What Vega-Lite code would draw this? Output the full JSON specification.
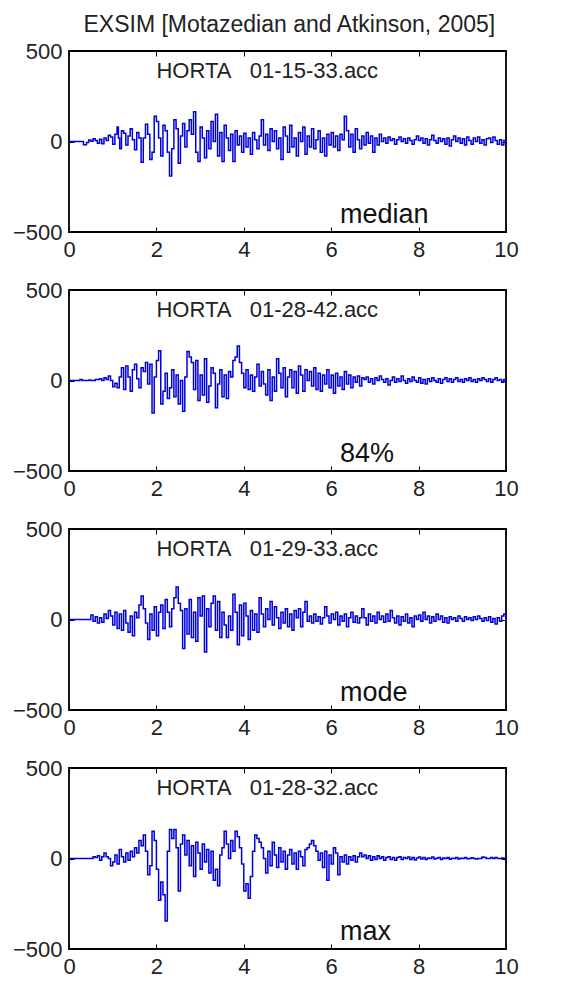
{
"$schema":"https://vega.github.io/schema/vega-lite/v6.json",
"padding":{"left":11,"top":14,"right":10,"bottom":5},
"background":"#ffffff",
"title":{"text":"EXSIM [Motazedian and Atkinson, 2005]","fontSize":23,"fontWeight":"normal","font":"Liberation Sans","color":"#222222","anchor":"middle","offset":2,"dx":24},
"spacing":58,
"bounds":"flush",
"datasets":{
"labels":[
{"p":"median","t":2.0,"a":350,"txt":"HORTA\u00a0\u00a0\u00a001-15-33.acc","k":"top"},
{"p":"median","t":6.2,"a":-453,"txt":"median","k":"bot"},
{"p":"84%","t":2.0,"a":350,"txt":"HORTA\u00a0\u00a0\u00a001-28-42.acc","k":"top"},
{"p":"84%","t":6.2,"a":-453,"txt":"84%","k":"bot"},
{"p":"mode","t":2.0,"a":350,"txt":"HORTA\u00a0\u00a0\u00a001-29-33.acc","k":"top"},
{"p":"mode","t":6.2,"a":-453,"txt":"mode","k":"bot"},
{"p":"max","t":2.0,"a":350,"txt":"HORTA\u00a0\u00a0\u00a001-28-32.acc","k":"top"},
{"p":"max","t":6.2,"a":-453,"txt":"max","k":"bot"}
],
"trace":[
{"p":"median","t":0,"a":0},{"p":"median","t":0.3,"a":0},{"p":"median","t":0.33,"a":-18},{"p":"median","t":0.4,"a":-5},{"p":"median","t":0.45,"a":8},{"p":"median","t":0.5,"a":2},{"p":"median","t":0.55,"a":15},{"p":"median","t":0.6,"a":5},{"p":"median","t":0.65,"a":-10},{"p":"median","t":0.7,"a":12},{"p":"median","t":0.75,"a":-12},{"p":"median","t":0.8,"a":20},{"p":"median","t":0.85,"a":5},{"p":"median","t":0.9,"a":35},{"p":"median","t":0.95,"a":25},{"p":"median","t":1.0,"a":-15},{"p":"median","t":1.05,"a":40},{"p":"median","t":1.1,"a":80},{"p":"median","t":1.13,"a":20},{"p":"median","t":1.16,"a":-40},{"p":"median","t":1.2,"a":60},{"p":"median","t":1.25,"a":45},{"p":"median","t":1.3,"a":-20},{"p":"median","t":1.35,"a":30},{"p":"median","t":1.4,"a":70},{"p":"median","t":1.45,"a":10},{"p":"median","t":1.5,"a":-45},{"p":"median","t":1.55,"a":50},{"p":"median","t":1.6,"a":20},{"p":"median","t":1.65,"a":-115},{"p":"median","t":1.7,"a":20},{"p":"median","t":1.75,"a":95},{"p":"median","t":1.8,"a":40},{"p":"median","t":1.85,"a":-100},{"p":"median","t":1.9,"a":-60},{"p":"median","t":1.95,"a":140},{"p":"median","t":2.0,"a":110},{"p":"median","t":2.05,"a":20},{"p":"median","t":2.1,"a":-80},{"p":"median","t":2.15,"a":90},{"p":"median","t":2.2,"a":60},{"p":"median","t":2.25,"a":-60},{"p":"median","t":2.3,"a":-190},{"p":"median","t":2.35,"a":-40},{"p":"median","t":2.4,"a":120},{"p":"median","t":2.45,"a":70},{"p":"median","t":2.5,"a":-120},{"p":"median","t":2.55,"a":30},{"p":"median","t":2.6,"a":100},{"p":"median","t":2.65,"a":-30},{"p":"median","t":2.7,"a":60},{"p":"median","t":2.75,"a":120},{"p":"median","t":2.8,"a":40},{"p":"median","t":2.85,"a":165},{"p":"median","t":2.9,"a":-60},{"p":"median","t":2.95,"a":-110},{"p":"median","t":3.0,"a":80},{"p":"median","t":3.05,"a":20},{"p":"median","t":3.1,"a":-90},{"p":"median","t":3.15,"a":60},{"p":"median","t":3.2,"a":-40},{"p":"median","t":3.25,"a":110},{"p":"median","t":3.3,"a":0},{"p":"median","t":3.35,"a":150},{"p":"median","t":3.4,"a":-80},{"p":"median","t":3.45,"a":50},{"p":"median","t":3.5,"a":-110},{"p":"median","t":3.55,"a":90},{"p":"median","t":3.6,"a":20},{"p":"median","t":3.65,"a":-50},{"p":"median","t":3.7,"a":40},{"p":"median","t":3.75,"a":-110},{"p":"median","t":3.8,"a":60},{"p":"median","t":3.85,"a":-20},{"p":"median","t":3.9,"a":30},{"p":"median","t":3.95,"a":-60},{"p":"median","t":4.0,"a":45},{"p":"median","t":4.05,"a":-30},{"p":"median","t":4.1,"a":20},{"p":"median","t":4.15,"a":-70},{"p":"median","t":4.2,"a":50},{"p":"median","t":4.25,"a":10},{"p":"median","t":4.3,"a":-40},{"p":"median","t":4.35,"a":30},{"p":"median","t":4.4,"a":120},{"p":"median","t":4.45,"a":-20},{"p":"median","t":4.5,"a":40},{"p":"median","t":4.55,"a":-50},{"p":"median","t":4.6,"a":70},{"p":"median","t":4.65,"a":0},{"p":"median","t":4.7,"a":60},{"p":"median","t":4.75,"a":-40},{"p":"median","t":4.8,"a":20},{"p":"median","t":4.85,"a":-100},{"p":"median","t":4.9,"a":80},{"p":"median","t":4.95,"a":30},{"p":"median","t":5.0,"a":-60},{"p":"median","t":5.05,"a":90},{"p":"median","t":5.1,"a":-30},{"p":"median","t":5.15,"a":20},{"p":"median","t":5.2,"a":-80},{"p":"median","t":5.25,"a":50},{"p":"median","t":5.3,"a":0},{"p":"median","t":5.35,"a":80},{"p":"median","t":5.4,"a":-70},{"p":"median","t":5.45,"a":30},{"p":"median","t":5.5,"a":-30},{"p":"median","t":5.55,"a":70},{"p":"median","t":5.6,"a":-40},{"p":"median","t":5.65,"a":10},{"p":"median","t":5.7,"a":60},{"p":"median","t":5.75,"a":-60},{"p":"median","t":5.8,"a":20},{"p":"median","t":5.85,"a":-80},{"p":"median","t":5.9,"a":40},{"p":"median","t":5.95,"a":-20},{"p":"median","t":6.0,"a":50},{"p":"median","t":6.05,"a":-30},{"p":"median","t":6.1,"a":30},{"p":"median","t":6.15,"a":-50},{"p":"median","t":6.2,"a":40},{"p":"median","t":6.25,"a":10},{"p":"median","t":6.3,"a":140},{"p":"median","t":6.35,"a":60},{"p":"median","t":6.4,"a":-30},{"p":"median","t":6.45,"a":40},{"p":"median","t":6.5,"a":-60},{"p":"median","t":6.55,"a":70},{"p":"median","t":6.6,"a":10},{"p":"median","t":6.65,"a":-40},{"p":"median","t":6.7,"a":30},{"p":"median","t":6.75,"a":-20},{"p":"median","t":6.8,"a":50},{"p":"median","t":6.85,"a":-10},{"p":"median","t":6.9,"a":30},{"p":"median","t":6.95,"a":-60},{"p":"median","t":7.0,"a":20},{"p":"median","t":7.05,"a":-20},{"p":"median","t":7.1,"a":40},{"p":"median","t":7.15,"a":0},{"p":"median","t":7.2,"a":20},{"p":"median","t":7.25,"a":-10},{"p":"median","t":7.3,"a":25},{"p":"median","t":7.35,"a":5},{"p":"median","t":7.4,"a":15},{"p":"median","t":7.45,"a":-15},{"p":"median","t":7.5,"a":10},{"p":"median","t":7.55,"a":25},{"p":"median","t":7.6,"a":0},{"p":"median","t":7.65,"a":15},{"p":"median","t":7.7,"a":-10},{"p":"median","t":7.75,"a":20},{"p":"median","t":7.8,"a":5},{"p":"median","t":7.85,"a":-15},{"p":"median","t":7.9,"a":10},{"p":"median","t":7.95,"a":30},{"p":"median","t":8.0,"a":5},{"p":"median","t":8.05,"a":20},{"p":"median","t":8.1,"a":-10},{"p":"median","t":8.15,"a":15},{"p":"median","t":8.2,"a":-20},{"p":"median","t":8.25,"a":10},{"p":"median","t":8.3,"a":35},{"p":"median","t":8.35,"a":5},{"p":"median","t":8.4,"a":-10},{"p":"median","t":8.45,"a":20},{"p":"median","t":8.5,"a":0},{"p":"median","t":8.55,"a":15},{"p":"median","t":8.6,"a":-15},{"p":"median","t":8.65,"a":20},{"p":"median","t":8.7,"a":-25},{"p":"median","t":8.75,"a":10},{"p":"median","t":8.8,"a":30},{"p":"median","t":8.85,"a":0},{"p":"median","t":8.9,"a":20},{"p":"median","t":8.95,"a":-10},{"p":"median","t":9.0,"a":15},{"p":"median","t":9.05,"a":-20},{"p":"median","t":9.1,"a":25},{"p":"median","t":9.15,"a":5},{"p":"median","t":9.2,"a":-15},{"p":"median","t":9.25,"a":20},{"p":"median","t":9.3,"a":0},{"p":"median","t":9.35,"a":25},{"p":"median","t":9.4,"a":-10},{"p":"median","t":9.45,"a":10},{"p":"median","t":9.5,"a":-20},{"p":"median","t":9.55,"a":15},{"p":"median","t":9.6,"a":20},{"p":"median","t":9.65,"a":-5},{"p":"median","t":9.7,"a":25},{"p":"median","t":9.75,"a":5},{"p":"median","t":9.8,"a":-15},{"p":"median","t":9.85,"a":10},{"p":"median","t":9.9,"a":-20},{"p":"median","t":9.95,"a":5},{"p":"median","t":10.0,"a":0},
{"p":"84%","t":0,"a":0},{"p":"84%","t":0.25,"a":5},{"p":"84%","t":0.3,"a":0},{"p":"84%","t":0.45,"a":3},{"p":"84%","t":0.5,"a":0},{"p":"84%","t":0.6,"a":5},{"p":"84%","t":0.7,"a":10},{"p":"84%","t":0.75,"a":0},{"p":"84%","t":0.8,"a":15},{"p":"84%","t":0.85,"a":5},{"p":"84%","t":0.9,"a":25},{"p":"84%","t":0.95,"a":0},{"p":"84%","t":1.0,"a":-35},{"p":"84%","t":1.05,"a":-15},{"p":"84%","t":1.1,"a":-40},{"p":"84%","t":1.15,"a":20},{"p":"84%","t":1.2,"a":70},{"p":"84%","t":1.25,"a":-50},{"p":"84%","t":1.3,"a":80},{"p":"84%","t":1.35,"a":20},{"p":"84%","t":1.4,"a":-60},{"p":"84%","t":1.45,"a":60},{"p":"84%","t":1.5,"a":90},{"p":"84%","t":1.55,"a":10},{"p":"84%","t":1.6,"a":-40},{"p":"84%","t":1.65,"a":70},{"p":"84%","t":1.7,"a":50},{"p":"84%","t":1.75,"a":100},{"p":"84%","t":1.8,"a":-20},{"p":"84%","t":1.85,"a":90},{"p":"84%","t":1.9,"a":-180},{"p":"84%","t":1.95,"a":20},{"p":"84%","t":2.0,"a":110},{"p":"84%","t":2.05,"a":165},{"p":"84%","t":2.1,"a":-130},{"p":"84%","t":2.15,"a":-60},{"p":"84%","t":2.2,"a":40},{"p":"84%","t":2.25,"a":-100},{"p":"84%","t":2.3,"a":-40},{"p":"84%","t":2.35,"a":60},{"p":"84%","t":2.4,"a":-90},{"p":"84%","t":2.45,"a":30},{"p":"84%","t":2.5,"a":-130},{"p":"84%","t":2.55,"a":0},{"p":"84%","t":2.6,"a":-170},{"p":"84%","t":2.65,"a":20},{"p":"84%","t":2.7,"a":160},{"p":"84%","t":2.75,"a":130},{"p":"84%","t":2.8,"a":100},{"p":"84%","t":2.85,"a":-50},{"p":"84%","t":2.9,"a":110},{"p":"84%","t":2.95,"a":-110},{"p":"84%","t":3.0,"a":30},{"p":"84%","t":3.05,"a":-80},{"p":"84%","t":3.1,"a":120},{"p":"84%","t":3.15,"a":-120},{"p":"84%","t":3.2,"a":-30},{"p":"84%","t":3.25,"a":70},{"p":"84%","t":3.3,"a":40},{"p":"84%","t":3.35,"a":-150},{"p":"84%","t":3.4,"a":-20},{"p":"84%","t":3.45,"a":60},{"p":"84%","t":3.5,"a":-90},{"p":"84%","t":3.55,"a":30},{"p":"84%","t":3.6,"a":-100},{"p":"84%","t":3.65,"a":50},{"p":"84%","t":3.7,"a":20},{"p":"84%","t":3.75,"a":110},{"p":"84%","t":3.8,"a":130},{"p":"84%","t":3.85,"a":190},{"p":"84%","t":3.9,"a":100},{"p":"84%","t":3.95,"a":40},{"p":"84%","t":4.0,"a":-40},{"p":"84%","t":4.05,"a":60},{"p":"84%","t":4.1,"a":-50},{"p":"84%","t":4.15,"a":30},{"p":"84%","t":4.2,"a":-60},{"p":"84%","t":4.25,"a":20},{"p":"84%","t":4.3,"a":90},{"p":"84%","t":4.35,"a":-30},{"p":"84%","t":4.4,"a":50},{"p":"84%","t":4.45,"a":-20},{"p":"84%","t":4.5,"a":-80},{"p":"84%","t":4.55,"a":60},{"p":"84%","t":4.6,"a":-110},{"p":"84%","t":4.65,"a":20},{"p":"84%","t":4.7,"a":-60},{"p":"84%","t":4.75,"a":120},{"p":"84%","t":4.8,"a":40},{"p":"84%","t":4.85,"a":-40},{"p":"84%","t":4.9,"a":70},{"p":"84%","t":4.95,"a":-90},{"p":"84%","t":5.0,"a":20},{"p":"84%","t":5.05,"a":60},{"p":"84%","t":5.1,"a":-40},{"p":"84%","t":5.15,"a":50},{"p":"84%","t":5.2,"a":-70},{"p":"84%","t":5.25,"a":80},{"p":"84%","t":5.3,"a":30},{"p":"84%","t":5.35,"a":-60},{"p":"84%","t":5.4,"a":60},{"p":"84%","t":5.45,"a":0},{"p":"84%","t":5.5,"a":50},{"p":"84%","t":5.55,"a":-30},{"p":"84%","t":5.6,"a":70},{"p":"84%","t":5.65,"a":-50},{"p":"84%","t":5.7,"a":40},{"p":"84%","t":5.75,"a":-60},{"p":"84%","t":5.8,"a":30},{"p":"84%","t":5.85,"a":-20},{"p":"84%","t":5.9,"a":60},{"p":"84%","t":5.95,"a":-40},{"p":"84%","t":6.0,"a":30},{"p":"84%","t":6.05,"a":-70},{"p":"84%","t":6.1,"a":40},{"p":"84%","t":6.15,"a":-30},{"p":"84%","t":6.2,"a":20},{"p":"84%","t":6.25,"a":-50},{"p":"84%","t":6.3,"a":50},{"p":"84%","t":6.35,"a":-20},{"p":"84%","t":6.4,"a":30},{"p":"84%","t":6.45,"a":-40},{"p":"84%","t":6.5,"a":20},{"p":"84%","t":6.55,"a":-10},{"p":"84%","t":6.6,"a":25},{"p":"84%","t":6.65,"a":-30},{"p":"84%","t":6.7,"a":15},{"p":"84%","t":6.75,"a":5},{"p":"84%","t":6.8,"a":20},{"p":"84%","t":6.85,"a":-10},{"p":"84%","t":6.9,"a":10},{"p":"84%","t":6.95,"a":-20},{"p":"84%","t":7.0,"a":15},{"p":"84%","t":7.05,"a":0},{"p":"84%","t":7.1,"a":25},{"p":"84%","t":7.15,"a":5},{"p":"84%","t":7.2,"a":-10},{"p":"84%","t":7.25,"a":10},{"p":"84%","t":7.3,"a":-25},{"p":"84%","t":7.35,"a":0},{"p":"84%","t":7.4,"a":20},{"p":"84%","t":7.45,"a":-10},{"p":"84%","t":7.5,"a":10},{"p":"84%","t":7.55,"a":-5},{"p":"84%","t":7.6,"a":25},{"p":"84%","t":7.65,"a":0},{"p":"84%","t":7.7,"a":-15},{"p":"84%","t":7.75,"a":10},{"p":"84%","t":7.8,"a":-5},{"p":"84%","t":7.85,"a":20},{"p":"84%","t":7.9,"a":0},{"p":"84%","t":7.95,"a":-10},{"p":"84%","t":8.0,"a":15},{"p":"84%","t":8.05,"a":-15},{"p":"84%","t":8.1,"a":5},{"p":"84%","t":8.15,"a":-20},{"p":"84%","t":8.2,"a":10},{"p":"84%","t":8.25,"a":-5},{"p":"84%","t":8.3,"a":15},{"p":"84%","t":8.35,"a":0},{"p":"84%","t":8.4,"a":-10},{"p":"84%","t":8.45,"a":10},{"p":"84%","t":8.5,"a":-15},{"p":"84%","t":8.55,"a":5},{"p":"84%","t":8.6,"a":15},{"p":"84%","t":8.65,"a":-5},{"p":"84%","t":8.7,"a":10},{"p":"84%","t":8.75,"a":-10},{"p":"84%","t":8.8,"a":5},{"p":"84%","t":8.85,"a":15},{"p":"84%","t":8.9,"a":-5},{"p":"84%","t":8.95,"a":5},{"p":"84%","t":9.0,"a":-10},{"p":"84%","t":9.05,"a":10},{"p":"84%","t":9.1,"a":0},{"p":"84%","t":9.15,"a":15},{"p":"84%","t":9.2,"a":-5},{"p":"84%","t":9.25,"a":5},{"p":"84%","t":9.3,"a":-10},{"p":"84%","t":9.35,"a":10},{"p":"84%","t":9.4,"a":0},{"p":"84%","t":9.45,"a":15},{"p":"84%","t":9.5,"a":5},{"p":"84%","t":9.55,"a":-5},{"p":"84%","t":9.6,"a":10},{"p":"84%","t":9.65,"a":-10},{"p":"84%","t":9.7,"a":5},{"p":"84%","t":9.75,"a":15},{"p":"84%","t":9.8,"a":0},{"p":"84%","t":9.85,"a":5},{"p":"84%","t":9.9,"a":-10},{"p":"84%","t":9.95,"a":5},{"p":"84%","t":10.0,"a":0},
{"p":"mode","t":0,"a":0},{"p":"mode","t":0.45,"a":0},{"p":"mode","t":0.5,"a":25},{"p":"mode","t":0.55,"a":-10},{"p":"mode","t":0.6,"a":15},{"p":"mode","t":0.65,"a":-20},{"p":"mode","t":0.7,"a":10},{"p":"mode","t":0.75,"a":-15},{"p":"mode","t":0.8,"a":30},{"p":"mode","t":0.85,"a":5},{"p":"mode","t":0.9,"a":50},{"p":"mode","t":0.95,"a":20},{"p":"mode","t":1.0,"a":-30},{"p":"mode","t":1.05,"a":40},{"p":"mode","t":1.1,"a":-50},{"p":"mode","t":1.15,"a":30},{"p":"mode","t":1.2,"a":-60},{"p":"mode","t":1.25,"a":50},{"p":"mode","t":1.3,"a":-20},{"p":"mode","t":1.35,"a":-70},{"p":"mode","t":1.4,"a":20},{"p":"mode","t":1.45,"a":-90},{"p":"mode","t":1.5,"a":40},{"p":"mode","t":1.55,"a":10},{"p":"mode","t":1.6,"a":80},{"p":"mode","t":1.65,"a":130},{"p":"mode","t":1.7,"a":60},{"p":"mode","t":1.75,"a":-20},{"p":"mode","t":1.8,"a":-110},{"p":"mode","t":1.85,"a":30},{"p":"mode","t":1.9,"a":-60},{"p":"mode","t":1.95,"a":70},{"p":"mode","t":2.0,"a":-90},{"p":"mode","t":2.05,"a":40},{"p":"mode","t":2.1,"a":80},{"p":"mode","t":2.15,"a":-50},{"p":"mode","t":2.2,"a":110},{"p":"mode","t":2.25,"a":40},{"p":"mode","t":2.3,"a":-40},{"p":"mode","t":2.35,"a":60},{"p":"mode","t":2.4,"a":120},{"p":"mode","t":2.45,"a":180},{"p":"mode","t":2.5,"a":90},{"p":"mode","t":2.55,"a":50},{"p":"mode","t":2.6,"a":-160},{"p":"mode","t":2.65,"a":60},{"p":"mode","t":2.7,"a":-80},{"p":"mode","t":2.75,"a":110},{"p":"mode","t":2.8,"a":-100},{"p":"mode","t":2.85,"a":40},{"p":"mode","t":2.9,"a":-120},{"p":"mode","t":2.95,"a":120},{"p":"mode","t":3.0,"a":20},{"p":"mode","t":3.05,"a":130},{"p":"mode","t":3.1,"a":-180},{"p":"mode","t":3.15,"a":60},{"p":"mode","t":3.2,"a":-40},{"p":"mode","t":3.25,"a":90},{"p":"mode","t":3.3,"a":130},{"p":"mode","t":3.35,"a":-60},{"p":"mode","t":3.4,"a":100},{"p":"mode","t":3.45,"a":-100},{"p":"mode","t":3.5,"a":40},{"p":"mode","t":3.55,"a":-30},{"p":"mode","t":3.6,"a":-100},{"p":"mode","t":3.65,"a":20},{"p":"mode","t":3.7,"a":-60},{"p":"mode","t":3.75,"a":140},{"p":"mode","t":3.8,"a":40},{"p":"mode","t":3.85,"a":-140},{"p":"mode","t":3.9,"a":80},{"p":"mode","t":3.95,"a":-90},{"p":"mode","t":4.0,"a":90},{"p":"mode","t":4.05,"a":20},{"p":"mode","t":4.1,"a":-110},{"p":"mode","t":4.15,"a":50},{"p":"mode","t":4.2,"a":-60},{"p":"mode","t":4.25,"a":30},{"p":"mode","t":4.3,"a":-70},{"p":"mode","t":4.35,"a":120},{"p":"mode","t":4.4,"a":30},{"p":"mode","t":4.45,"a":-40},{"p":"mode","t":4.5,"a":60},{"p":"mode","t":4.55,"a":0},{"p":"mode","t":4.6,"a":100},{"p":"mode","t":4.65,"a":-30},{"p":"mode","t":4.7,"a":70},{"p":"mode","t":4.75,"a":10},{"p":"mode","t":4.8,"a":-50},{"p":"mode","t":4.85,"a":40},{"p":"mode","t":4.9,"a":-20},{"p":"mode","t":4.95,"a":60},{"p":"mode","t":5.0,"a":-40},{"p":"mode","t":5.05,"a":30},{"p":"mode","t":5.1,"a":-60},{"p":"mode","t":5.15,"a":50},{"p":"mode","t":5.2,"a":10},{"p":"mode","t":5.25,"a":60},{"p":"mode","t":5.3,"a":-40},{"p":"mode","t":5.35,"a":40},{"p":"mode","t":5.4,"a":100},{"p":"mode","t":5.45,"a":-10},{"p":"mode","t":5.5,"a":20},{"p":"mode","t":5.55,"a":-20},{"p":"mode","t":5.6,"a":30},{"p":"mode","t":5.65,"a":-10},{"p":"mode","t":5.7,"a":15},{"p":"mode","t":5.75,"a":-25},{"p":"mode","t":5.8,"a":10},{"p":"mode","t":5.85,"a":70},{"p":"mode","t":5.9,"a":20},{"p":"mode","t":5.95,"a":-20},{"p":"mode","t":6.0,"a":30},{"p":"mode","t":6.05,"a":0},{"p":"mode","t":6.1,"a":40},{"p":"mode","t":6.15,"a":-30},{"p":"mode","t":6.2,"a":20},{"p":"mode","t":6.25,"a":-10},{"p":"mode","t":6.3,"a":30},{"p":"mode","t":6.35,"a":-40},{"p":"mode","t":6.4,"a":10},{"p":"mode","t":6.45,"a":40},{"p":"mode","t":6.5,"a":-15},{"p":"mode","t":6.55,"a":20},{"p":"mode","t":6.6,"a":-20},{"p":"mode","t":6.65,"a":10},{"p":"mode","t":6.7,"a":60},{"p":"mode","t":6.75,"a":10},{"p":"mode","t":6.8,"a":-30},{"p":"mode","t":6.85,"a":30},{"p":"mode","t":6.9,"a":-10},{"p":"mode","t":6.95,"a":20},{"p":"mode","t":7.0,"a":-20},{"p":"mode","t":7.05,"a":40},{"p":"mode","t":7.1,"a":0},{"p":"mode","t":7.15,"a":20},{"p":"mode","t":7.2,"a":-15},{"p":"mode","t":7.25,"a":30},{"p":"mode","t":7.3,"a":-10},{"p":"mode","t":7.35,"a":50},{"p":"mode","t":7.4,"a":10},{"p":"mode","t":7.45,"a":-20},{"p":"mode","t":7.5,"a":20},{"p":"mode","t":7.55,"a":-30},{"p":"mode","t":7.6,"a":15},{"p":"mode","t":7.65,"a":-10},{"p":"mode","t":7.7,"a":30},{"p":"mode","t":7.75,"a":-20},{"p":"mode","t":7.8,"a":10},{"p":"mode","t":7.85,"a":-40},{"p":"mode","t":7.9,"a":20},{"p":"mode","t":7.95,"a":0},{"p":"mode","t":8.0,"a":25},{"p":"mode","t":8.05,"a":-10},{"p":"mode","t":8.1,"a":40},{"p":"mode","t":8.15,"a":0},{"p":"mode","t":8.2,"a":20},{"p":"mode","t":8.25,"a":-20},{"p":"mode","t":8.3,"a":15},{"p":"mode","t":8.35,"a":-10},{"p":"mode","t":8.4,"a":30},{"p":"mode","t":8.45,"a":0},{"p":"mode","t":8.5,"a":20},{"p":"mode","t":8.55,"a":-15},{"p":"mode","t":8.6,"a":10},{"p":"mode","t":8.65,"a":-20},{"p":"mode","t":8.7,"a":15},{"p":"mode","t":8.75,"a":0},{"p":"mode","t":8.8,"a":10},{"p":"mode","t":8.85,"a":-10},{"p":"mode","t":8.9,"a":20},{"p":"mode","t":8.95,"a":5},{"p":"mode","t":9.0,"a":-10},{"p":"mode","t":9.05,"a":15},{"p":"mode","t":9.1,"a":0},{"p":"mode","t":9.15,"a":10},{"p":"mode","t":9.2,"a":-5},{"p":"mode","t":9.25,"a":15},{"p":"mode","t":9.3,"a":0},{"p":"mode","t":9.35,"a":20},{"p":"mode","t":9.4,"a":5},{"p":"mode","t":9.45,"a":-10},{"p":"mode","t":9.5,"a":10},{"p":"mode","t":9.55,"a":-5},{"p":"mode","t":9.6,"a":15},{"p":"mode","t":9.65,"a":-15},{"p":"mode","t":9.7,"a":5},{"p":"mode","t":9.75,"a":-25},{"p":"mode","t":9.8,"a":10},{"p":"mode","t":9.85,"a":-10},{"p":"mode","t":9.9,"a":20},{"p":"mode","t":9.95,"a":30},{"p":"mode","t":10.0,"a":0},
{"p":"max","t":0,"a":0},{"p":"max","t":0.5,"a":0},{"p":"max","t":0.55,"a":10},{"p":"max","t":0.6,"a":5},{"p":"max","t":0.65,"a":15},{"p":"max","t":0.7,"a":-10},{"p":"max","t":0.75,"a":10},{"p":"max","t":0.8,"a":30},{"p":"max","t":0.85,"a":10},{"p":"max","t":0.9,"a":0},{"p":"max","t":0.95,"a":-40},{"p":"max","t":1.0,"a":-20},{"p":"max","t":1.05,"a":20},{"p":"max","t":1.1,"a":-30},{"p":"max","t":1.15,"a":50},{"p":"max","t":1.2,"a":10},{"p":"max","t":1.25,"a":-20},{"p":"max","t":1.3,"a":30},{"p":"max","t":1.35,"a":-10},{"p":"max","t":1.4,"a":40},{"p":"max","t":1.45,"a":10},{"p":"max","t":1.5,"a":60},{"p":"max","t":1.55,"a":30},{"p":"max","t":1.6,"a":100},{"p":"max","t":1.65,"a":70},{"p":"max","t":1.7,"a":130},{"p":"max","t":1.75,"a":40},{"p":"max","t":1.8,"a":-90},{"p":"max","t":1.85,"a":-40},{"p":"max","t":1.9,"a":150},{"p":"max","t":1.95,"a":100},{"p":"max","t":2.0,"a":-60},{"p":"max","t":2.05,"a":-230},{"p":"max","t":2.1,"a":-130},{"p":"max","t":2.15,"a":-200},{"p":"max","t":2.2,"a":-345},{"p":"max","t":2.25,"a":40},{"p":"max","t":2.3,"a":160},{"p":"max","t":2.35,"a":110},{"p":"max","t":2.4,"a":160},{"p":"max","t":2.45,"a":60},{"p":"max","t":2.5,"a":-180},{"p":"max","t":2.55,"a":80},{"p":"max","t":2.6,"a":130},{"p":"max","t":2.65,"a":20},{"p":"max","t":2.7,"a":100},{"p":"max","t":2.75,"a":-40},{"p":"max","t":2.8,"a":70},{"p":"max","t":2.85,"a":-100},{"p":"max","t":2.9,"a":90},{"p":"max","t":2.95,"a":30},{"p":"max","t":3.0,"a":-60},{"p":"max","t":3.05,"a":80},{"p":"max","t":3.1,"a":-20},{"p":"max","t":3.15,"a":50},{"p":"max","t":3.2,"a":-80},{"p":"max","t":3.25,"a":40},{"p":"max","t":3.3,"a":-120},{"p":"max","t":3.35,"a":-60},{"p":"max","t":3.4,"a":-150},{"p":"max","t":3.45,"a":20},{"p":"max","t":3.5,"a":60},{"p":"max","t":3.55,"a":150},{"p":"max","t":3.6,"a":80},{"p":"max","t":3.65,"a":0},{"p":"max","t":3.7,"a":100},{"p":"max","t":3.75,"a":40},{"p":"max","t":3.8,"a":150},{"p":"max","t":3.85,"a":120},{"p":"max","t":3.9,"a":60},{"p":"max","t":3.95,"a":-30},{"p":"max","t":4.0,"a":-180},{"p":"max","t":4.05,"a":-140},{"p":"max","t":4.1,"a":-220},{"p":"max","t":4.15,"a":-100},{"p":"max","t":4.2,"a":40},{"p":"max","t":4.25,"a":130},{"p":"max","t":4.3,"a":110},{"p":"max","t":4.35,"a":90},{"p":"max","t":4.4,"a":60},{"p":"max","t":4.45,"a":0},{"p":"max","t":4.5,"a":-80},{"p":"max","t":4.55,"a":40},{"p":"max","t":4.6,"a":-40},{"p":"max","t":4.65,"a":90},{"p":"max","t":4.7,"a":20},{"p":"max","t":4.75,"a":-50},{"p":"max","t":4.8,"a":60},{"p":"max","t":4.85,"a":-20},{"p":"max","t":4.9,"a":40},{"p":"max","t":4.95,"a":-60},{"p":"max","t":5.0,"a":20},{"p":"max","t":5.05,"a":50},{"p":"max","t":5.1,"a":-30},{"p":"max","t":5.15,"a":30},{"p":"max","t":5.2,"a":-60},{"p":"max","t":5.25,"a":40},{"p":"max","t":5.3,"a":10},{"p":"max","t":5.35,"a":-40},{"p":"max","t":5.4,"a":50},{"p":"max","t":5.45,"a":60},{"p":"max","t":5.5,"a":80},{"p":"max","t":5.55,"a":100},{"p":"max","t":5.6,"a":70},{"p":"max","t":5.65,"a":40},{"p":"max","t":5.7,"a":-10},{"p":"max","t":5.75,"a":30},{"p":"max","t":5.8,"a":-50},{"p":"max","t":5.85,"a":40},{"p":"max","t":5.9,"a":-120},{"p":"max","t":5.95,"a":20},{"p":"max","t":6.0,"a":-30},{"p":"max","t":6.05,"a":60},{"p":"max","t":6.1,"a":30},{"p":"max","t":6.15,"a":-90},{"p":"max","t":6.2,"a":10},{"p":"max","t":6.25,"a":-20},{"p":"max","t":6.3,"a":20},{"p":"max","t":6.35,"a":-30},{"p":"max","t":6.4,"a":10},{"p":"max","t":6.45,"a":-10},{"p":"max","t":6.5,"a":15},{"p":"max","t":6.55,"a":-20},{"p":"max","t":6.6,"a":10},{"p":"max","t":6.65,"a":30},{"p":"max","t":6.7,"a":10},{"p":"max","t":6.75,"a":20},{"p":"max","t":6.8,"a":0},{"p":"max","t":6.85,"a":15},{"p":"max","t":6.9,"a":-10},{"p":"max","t":6.95,"a":10},{"p":"max","t":7.0,"a":-5},{"p":"max","t":7.05,"a":15},{"p":"max","t":7.1,"a":0},{"p":"max","t":7.15,"a":10},{"p":"max","t":7.2,"a":-10},{"p":"max","t":7.25,"a":5},{"p":"max","t":7.3,"a":10},{"p":"max","t":7.35,"a":-5},{"p":"max","t":7.4,"a":5},{"p":"max","t":7.45,"a":-10},{"p":"max","t":7.5,"a":5},{"p":"max","t":7.55,"a":10},{"p":"max","t":7.6,"a":-5},{"p":"max","t":7.65,"a":5},{"p":"max","t":7.7,"a":0},{"p":"max","t":7.75,"a":8},{"p":"max","t":7.8,"a":-5},{"p":"max","t":7.85,"a":5},{"p":"max","t":7.9,"a":-8},{"p":"max","t":7.95,"a":3},{"p":"max","t":8.0,"a":8},{"p":"max","t":8.05,"a":-3},{"p":"max","t":8.1,"a":5},{"p":"max","t":8.15,"a":-5},{"p":"max","t":8.2,"a":3},{"p":"max","t":8.25,"a":0},{"p":"max","t":8.3,"a":8},{"p":"max","t":8.35,"a":-3},{"p":"max","t":8.4,"a":2},{"p":"max","t":8.45,"a":5},{"p":"max","t":8.5,"a":-5},{"p":"max","t":8.55,"a":3},{"p":"max","t":8.6,"a":0},{"p":"max","t":8.65,"a":6},{"p":"max","t":8.7,"a":-4},{"p":"max","t":8.75,"a":2},{"p":"max","t":8.8,"a":0},{"p":"max","t":8.85,"a":5},{"p":"max","t":8.9,"a":-3},{"p":"max","t":8.95,"a":2},{"p":"max","t":9.0,"a":0},{"p":"max","t":9.05,"a":6},{"p":"max","t":9.1,"a":-2},{"p":"max","t":9.15,"a":0},{"p":"max","t":9.2,"a":4},{"p":"max","t":9.25,"a":0},{"p":"max","t":9.3,"a":-3},{"p":"max","t":9.35,"a":0},{"p":"max","t":9.45,"a":8},{"p":"max","t":9.5,"a":6},{"p":"max","t":9.55,"a":0},{"p":"max","t":9.65,"a":5},{"p":"max","t":9.7,"a":0},{"p":"max","t":9.75,"a":6},{"p":"max","t":9.8,"a":0},{"p":"max","t":9.9,"a":3},{"p":"max","t":9.95,"a":0},{"p":"max","t":10.0,"a":0}
]},
"vconcat":[
{"width":437,"height":181,"layer":[
 {"data":{"name":"trace"},"transform":[{"filter":"datum.p==='median'"}],"mark":{"type":"line","interpolate":"step-after","color":"#0000dd","strokeWidth":1.5},
  "encoding":{"x":{"field":"t","type":"quantitative","scale":{"domain":[0,10],"nice":false},"axis":{"values":[0,2,4,6,8,10],"title":null}},
  "y":{"field":"a","type":"quantitative","scale":{"domain":[-500,500],"nice":false},"axis":{"values":[-500,0,500],"title":null}}}},
 {"data":{"name":"labels"},"transform":[{"filter":"datum.p==='median' && datum.k==='top'"}],"mark":{"type":"text","align":"left","baseline":"alphabetic","fontSize":22,"font":"Liberation Sans","color":"#222222"},
  "encoding":{"x":{"field":"t","type":"quantitative","axis":{"orient":"top","values":[0,2,4,6,8,10],"labels":false,"title":null}},
  "y":{"field":"a","type":"quantitative","axis":{"orient":"right","values":[-500,0,500],"labels":false,"title":null}},"text":{"field":"txt"}}},
 {"data":{"name":"labels"},"transform":[{"filter":"datum.p==='median' && datum.k==='bot'"}],"mark":{"type":"text","align":"left","baseline":"alphabetic","fontSize":27,"font":"Liberation Sans","color":"#111111"},
  "encoding":{"x":{"field":"t","type":"quantitative","axis":null},"y":{"field":"a","type":"quantitative","axis":null},"text":{"field":"txt"}}}
 ],"resolve":{"axis":{"x":"independent","y":"independent"}}},
{"width":437,"height":181,"layer":[
 {"data":{"name":"trace"},"transform":[{"filter":"datum.p==='84%'"}],"mark":{"type":"line","interpolate":"step-after","color":"#0000dd","strokeWidth":1.5},
  "encoding":{"x":{"field":"t","type":"quantitative","scale":{"domain":[0,10],"nice":false},"axis":{"values":[0,2,4,6,8,10],"title":null}},
  "y":{"field":"a","type":"quantitative","scale":{"domain":[-500,500],"nice":false},"axis":{"values":[-500,0,500],"title":null}}}},
 {"data":{"name":"labels"},"transform":[{"filter":"datum.p==='84%' && datum.k==='top'"}],"mark":{"type":"text","align":"left","baseline":"alphabetic","fontSize":22,"font":"Liberation Sans","color":"#222222"},
  "encoding":{"x":{"field":"t","type":"quantitative","axis":{"orient":"top","values":[0,2,4,6,8,10],"labels":false,"title":null}},
  "y":{"field":"a","type":"quantitative","axis":{"orient":"right","values":[-500,0,500],"labels":false,"title":null}},"text":{"field":"txt"}}},
 {"data":{"name":"labels"},"transform":[{"filter":"datum.p==='84%' && datum.k==='bot'"}],"mark":{"type":"text","align":"left","baseline":"alphabetic","fontSize":27,"font":"Liberation Sans","color":"#111111"},
  "encoding":{"x":{"field":"t","type":"quantitative","axis":null},"y":{"field":"a","type":"quantitative","axis":null},"text":{"field":"txt"}}}
 ],"resolve":{"axis":{"x":"independent","y":"independent"}}},
{"width":437,"height":181,"layer":[
 {"data":{"name":"trace"},"transform":[{"filter":"datum.p==='mode'"}],"mark":{"type":"line","interpolate":"step-after","color":"#0000dd","strokeWidth":1.5},
  "encoding":{"x":{"field":"t","type":"quantitative","scale":{"domain":[0,10],"nice":false},"axis":{"values":[0,2,4,6,8,10],"title":null}},
  "y":{"field":"a","type":"quantitative","scale":{"domain":[-500,500],"nice":false},"axis":{"values":[-500,0,500],"title":null}}}},
 {"data":{"name":"labels"},"transform":[{"filter":"datum.p==='mode' && datum.k==='top'"}],"mark":{"type":"text","align":"left","baseline":"alphabetic","fontSize":22,"font":"Liberation Sans","color":"#222222"},
  "encoding":{"x":{"field":"t","type":"quantitative","axis":{"orient":"top","values":[0,2,4,6,8,10],"labels":false,"title":null}},
  "y":{"field":"a","type":"quantitative","axis":{"orient":"right","values":[-500,0,500],"labels":false,"title":null}},"text":{"field":"txt"}}},
 {"data":{"name":"labels"},"transform":[{"filter":"datum.p==='mode' && datum.k==='bot'"}],"mark":{"type":"text","align":"left","baseline":"alphabetic","fontSize":27,"font":"Liberation Sans","color":"#111111"},
  "encoding":{"x":{"field":"t","type":"quantitative","axis":null},"y":{"field":"a","type":"quantitative","axis":null},"text":{"field":"txt"}}}
 ],"resolve":{"axis":{"x":"independent","y":"independent"}}},
{"width":437,"height":181,"layer":[
 {"data":{"name":"trace"},"transform":[{"filter":"datum.p==='max'"}],"mark":{"type":"line","interpolate":"step-after","color":"#0000dd","strokeWidth":1.5},
  "encoding":{"x":{"field":"t","type":"quantitative","scale":{"domain":[0,10],"nice":false},"axis":{"values":[0,2,4,6,8,10],"title":null}},
  "y":{"field":"a","type":"quantitative","scale":{"domain":[-500,500],"nice":false},"axis":{"values":[-500,0,500],"title":null}}}},
 {"data":{"name":"labels"},"transform":[{"filter":"datum.p==='max' && datum.k==='top'"}],"mark":{"type":"text","align":"left","baseline":"alphabetic","fontSize":22,"font":"Liberation Sans","color":"#222222"},
  "encoding":{"x":{"field":"t","type":"quantitative","axis":{"orient":"top","values":[0,2,4,6,8,10],"labels":false,"title":null}},
  "y":{"field":"a","type":"quantitative","axis":{"orient":"right","values":[-500,0,500],"labels":false,"title":null}},"text":{"field":"txt"}}},
 {"data":{"name":"labels"},"transform":[{"filter":"datum.p==='max' && datum.k==='bot'"}],"mark":{"type":"text","align":"left","baseline":"alphabetic","fontSize":27,"font":"Liberation Sans","color":"#111111"},
  "encoding":{"x":{"field":"t","type":"quantitative","axis":null},"y":{"field":"a","type":"quantitative","axis":null},"text":{"field":"txt"}}}
 ],"resolve":{"axis":{"x":"independent","y":"independent"}}}
],
"config":{
 "view":{"stroke":"#000000","strokeWidth":1.8},
 "font":"Liberation Sans",
 "axis":{"domain":false,"grid":false,"ticks":true,"tickSize":-5,"tickColor":"#000000","tickWidth":1,"labelFont":"Liberation Sans","labelFontSize":22,"labelColor":"#222222","labelPadding":12,"labelFlush":false,"labelOverlap":false,"labelBound":false}
}
}
